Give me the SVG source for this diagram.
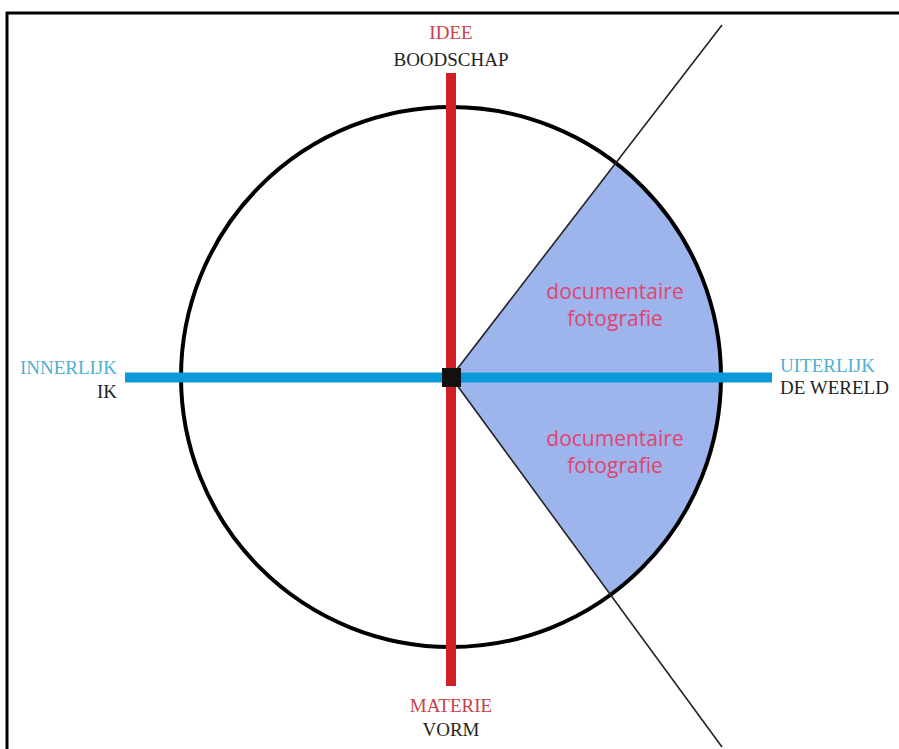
<svg xmlns="http://www.w3.org/2000/svg" width="899" height="749" viewBox="0 0 899 749">
<style>
.serif{font-family:"Liberation Serif","Times New Roman",serif;font-size:19px}
.red{fill:#c8414b}
.blue{fill:#4eb0d2}
.dark{fill:#231f20}
.doc{font-family:"Open Sans","Noto Sans",sans-serif;font-size:21px;fill:#e0456f;text-anchor:middle}
</style>
<rect width="899" height="749" fill="#ffffff"/>
<g id="frame" stroke="#000" stroke-width="3" fill="none">
<line x1="6" y1="13" x2="899" y2="13"/>
<line x1="7" y1="12" x2="7" y2="749"/>
</g>
<g id="wedge">
<path d="M451,377 L616,163 A270,270 0 0 1 611,595 Z" fill="#9db4ec"/>
</g>
<g id="circle">
<circle cx="451" cy="377" r="270" fill="none" stroke="#000" stroke-width="4"/>
</g>
<g id="connectors">
<line x1="451" y1="377" x2="722" y2="25" stroke="#222" stroke-width="1.6"/>
<line x1="451" y1="377" x2="722" y2="747" stroke="#222" stroke-width="1.6"/>
<line x1="451" y1="73" x2="451" y2="686" stroke="#d11f26" stroke-width="10"/>
<line x1="125" y1="377.5" x2="772" y2="377.5" stroke="#0a9ad9" stroke-width="10"/>
</g>
<g id="center">
<rect x="442" y="368" width="19" height="19" fill="#111"/>
</g>
<g id="top-label">
<text class="serif red" x="451" y="39" text-anchor="middle">IDEE</text>
<text class="serif dark" x="451" y="66" text-anchor="middle">BOODSCHAP</text>
</g>
<g id="bottom-label">
<text class="serif red" x="451" y="712" text-anchor="middle">MATERIE</text>
<text class="serif dark" x="451" y="736" text-anchor="middle">VORM</text>
</g>
<g id="left-label">
<text class="serif blue" x="117" y="374" text-anchor="end">INNERLIJK</text>
<text class="serif dark" x="117" y="398" text-anchor="end">IK</text>
</g>
<g id="right-label">
<text class="serif blue" x="780" y="372">UITERLIJK</text>
<text class="serif dark" x="780" y="394">DE WERELD</text>
</g>
<g id="doc-upper">
<text class="doc" x="615" y="299">documentaire</text>
<text class="doc" x="615" y="326">fotografie</text>
</g>
<g id="doc-lower">
<text class="doc" x="615" y="446">documentaire</text>
<text class="doc" x="615" y="473">fotografie</text>
</g>
</svg>
